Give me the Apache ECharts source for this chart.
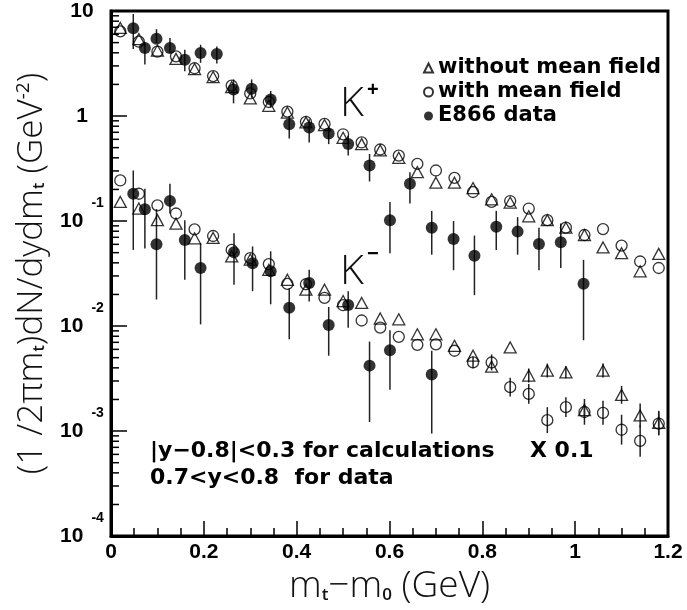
<!DOCTYPE html>
<html>
<head>
<meta charset="utf-8">
<script src="https://cdn.jsdelivr.net/npm/echarts@6/dist/echarts.min.js"></script>
<style>
  html, body { margin: 0; padding: 0; background: #fff; }
  #chart { width: 687px; height: 610px; }
</style>
</head>
<body>
<div id="chart"></div>
<script>
// transverse-mass points of the transport calculations (GeV)
const xCalc = [0.02, 0.06, 0.10, 0.14, 0.18, 0.22, 0.26, 0.30, 0.34, 0.38,
               0.42, 0.46, 0.50, 0.54, 0.58, 0.62, 0.66, 0.70, 0.74, 0.78,
               0.82, 0.86, 0.90, 0.94, 0.98, 1.02, 1.06, 1.10, 1.14, 1.18];

// K+ spectra
const kPlusNoMF = [6.9, 5.4, 4.2, 3.5, 2.8, 2.35, 1.88, 1.47, 1.25, 1.08,
                   0.87, 0.82, 0.62, 0.54, 0.47, 0.40, 0.292, 0.232, 0.232, 0.206,
                   0.161, 0.150, 0.111, 0.102, 0.0865, 0.0736, 0.056, 0.0494, 0.0332, 0.0487];
const kPlusMF   = [6.4, 5.1, 4.1, 3.7, 2.85, 2.4, 1.95, 1.64, 1.36, 1.10,
                   0.88, 0.84, 0.67, 0.56, 0.48, 0.42, 0.350, 0.303, 0.258, 0.189,
                   0.152, 0.155, 0.1315, 0.102, 0.0865, 0.0736, 0.0838, 0.0584, 0.0412, 0.0357];

// K- spectra (scaled by 0.1)
const kMinusNoMF = [0.152, 0.1315, 0.102, 0.0945, 0.0685, 0.069, 0.046, 0.043, 0.0343, 0.0276,
                    0.0222, 0.0222, 0.0173, 0.0166, 0.0118, 0.0116, 0.00835, 0.00835, 0.00649, 0.00522,
                    0.0041, 0.00625, 0.00338, 0.00377, 0.00363, 0.00158, 0.00377, 0.00221, 0.00141, 0.00120];
const kMinusMF   = [0.2435, 0.182, 0.141, 0.118, 0.0834, 0.072, 0.0531, 0.0443, 0.0389, 0.0252,
                    0.025, 0.01855, 0.0158, 0.0113, 0.00966, 0.00789, 0.00663, 0.0067, 0.00582, 0.00451,
                    0.0045, 0.00262, 0.00226, 0.00127, 0.00169, 0.00152, 0.00149, 0.00103, 0.000807, 0.00118];

// statistical spread of the K- calculations (null = not drawn)
const kMinusNoMFLo = [null, null, null, null, null, null, null, null, null, null,
                      null, null, null, null, null, null, null, null, null, null,
                      null, null, 0.0029, 0.00324, 0.00318, 0.00136, 0.00324, 0.00182, 0.00108, 0.00092];
const kMinusNoMFHi = [null, null, null, null, null, null, null, null, null, null,
                      null, null, null, null, null, null, null, null, null, null,
                      null, null, 0.00394, 0.00439, 0.00414, 0.00184, 0.00439, 0.00269, 0.00183, 0.00156];
const kMinusMFLo = [null, null, null, null, null, null, null, null, null, null,
                    null, null, null, null, null, null, null, null, null, 0.00396,
                    0.00378, 0.00213, 0.00182, 0.000957, 0.00136, 0.00115, 0.00115, 0.000743, 0.00057, 0.000908];
const kMinusMFHi = [null, null, null, null, null, null, null, null, null, null,
                    null, null, null, null, null, null, null, null, null, 0.00514,
                    0.00536, 0.00322, 0.00281, 0.00169, 0.0021, 0.00202, 0.00194, 0.00143, 0.00114, 0.00153];

// E866 K+ data
const kPlusDataX  = [0.048, 0.073, 0.098, 0.127, 0.159, 0.193, 0.228, 0.264, 0.303, 0.344,
                     0.384, 0.427, 0.469, 0.511, 0.557, 0.601, 0.644, 0.691, 0.738, 0.783,
                     0.830, 0.876, 0.922, 0.969, 1.018];
const kPlusData   = [6.86, 4.44, 5.44, 4.44, 3.44, 3.98, 3.90, 1.79, 1.82, 1.44,
                     0.836, 0.779, 0.683, 0.541, 0.338, 0.102, 0.227, 0.0865, 0.0675, 0.0466,
                     0.0883, 0.0793, 0.0605, 0.0628, 0.0253];
const kPlusDataLo = [4.34, 3.09, 4.95, 3.98, 2.67, 3.21, 3.16, 1.32, 1.49, 1.21,
                     0.61, 0.56, 0.54, 0.42, 0.238, 0.0494, 0.147, 0.0478, 0.034, 0.0197,
                     0.053, 0.0478, 0.034, 0.0357, 0.00733];
const kPlusDataHi = [9.37, 5.0, 6.71, 5.52, 4.28, 4.77, 4.60, 2.23, 2.23, 1.73,
                     1.0, 0.93, 0.78, 0.65, 0.435, 0.152, 0.292, 0.125, 0.10, 0.0727,
                     0.125, 0.109, 0.0865, 0.0945, 0.0427];

// E866 K- data (scaled by 0.1)
const kMinusDataX  = [0.048, 0.073, 0.098, 0.127, 0.159, 0.193, 0.265, 0.305, 0.344, 0.384,
                      0.427, 0.469, 0.511, 0.557, 0.601, 0.691];
const kMinusData   = [0.182, 0.1296, 0.0602, 0.1556, 0.066, 0.0357, 0.0505, 0.0397, 0.0332, 0.01493,
                      0.0257, 0.01024, 0.01583, 0.0042, 0.00589, 0.00345];
const kMinusDataLo = [0.0531, 0.0547, 0.0179, 0.118, 0.0276, 0.01038, 0.0248, 0.0215, 0.0161, 0.00748,
                      0.0171, 0.00522, 0.00966, 0.00122, 0.00247, 0.000947];
const kMinusDataHi = [0.303, 0.203, 0.13, 0.226, 0.102, 0.0614, 0.0765, 0.0573, 0.0515, 0.0229,
                      0.0343, 0.0152, 0.0215, 0.00712, 0.0091, 0.00582];

// axis tick labels
const xTickLabels = ['0', '0.2', '0.4', '0.6', '0.8', '1', '1.2'];

const LABEL_FONT = '"Liberation Sans", Arial, sans-serif';
const TEXT_FONT = '"DejaVu Sans", sans-serif';
const TITLE_FONT = '"Open Sans", "DejaVu Sans", sans-serif';

const pairs = (xs, ys) => xs.map((x, i) => [x, ys[i]]);
const bars = (xs, lo, hi) => xs.map((x, i) => [x, lo[i], hi[i]]).filter(d => d[1] != null && d[2] != null);

// minor ticks of the logarithmic axis: 2..9 within each decade
const yMinorTicks = [];
for (let e = -4; e < 1; e++) {
  for (let m = 2; m <= 9; m++) yMinorTicks.push([0, m * Math.pow(10, e)]);
}

function errorBar(params, api) {
  const x = api.value(0);
  const top = api.coord([x, api.value(2)]);
  const bot = api.coord([x, api.value(1)]);
  return {
    type: 'line',
    shape: { x1: top[0], y1: top[1], x2: bot[0], y2: bot[1] },
    style: { stroke: '#222', lineWidth: 1.5 }
  };
}

function minorTick(params, api) {
  const p = api.coord([0, api.value(1)]);
  return {
    type: 'line',
    shape: { x1: p[0], y1: p[1], x2: p[0] + 8, y2: p[1] },
    style: { stroke: '#000', lineWidth: 1.5 }
  };
}

const openStyle = { color: 'rgba(0,0,0,0)', borderColor: '#000', borderWidth: 1.3 };
const fullStyle = { color: '#000', borderColor: '#000', borderWidth: 0 };

const chart = echarts.init(document.getElementById('chart'), null, { renderer: 'canvas' });

chart.setOption({
  animation: false,
  backgroundColor: '#fff',
  grid: { left: 111, right: 19, top: 11, bottom: 70, show: true, borderColor: '#000', borderWidth: 3 },
  legend: {
    data: ['without mean field', 'with mean field', 'E866 data'],
    orient: 'vertical',
    left: 418,
    top: 52,
    itemWidth: 9,
    itemHeight: 9,
    itemGap: 2,
    selectedMode: false,
    textStyle: { fontFamily: TEXT_FONT, fontSize: 21, fontWeight: 'bold', color: '#000', lineHeight: 22 }
  },
  xAxis: {
    type: 'value',
    min: 0,
    max: 1.2,
    interval: 0.2,
    axisLine: { lineStyle: { color: '#000', width: 3 } },
    axisTick: { inside: true, length: 15, lineStyle: { color: '#000', width: 1.5 } },
    minorTick: { show: true, splitNumber: 4, length: 8, lineStyle: { color: '#000', width: 1.5 } },
    splitLine: { show: false },
    axisLabel: {
      margin: 6,
      fontFamily: LABEL_FONT,
      fontWeight: 'bold',
      fontSize: 21,
      color: '#000',
      formatter: v => xTickLabels[Math.round(v / 0.2)]
    },
    name: '{m|m}{sub|t}{m|−m}{sub|0}{m| (GeV)}',
    nameLocation: 'middle',
    nameGap: 30,
    nameTextStyle: {
      rich: {
        m: { fontFamily: TITLE_FONT, fontSize: 37, fontWeight: 300, color: '#111' },
        sub: { fontFamily: TITLE_FONT, fontSize: 17, fontWeight: 600, color: '#111', padding: [18, 0, 0, 0] }
      }
    }
  },
  yAxis: {
    type: 'log',
    logBase: 10,
    min: 0.0001,
    max: 10,
    axisLine: { show: true, lineStyle: { color: '#000', width: 3 } },
    axisTick: { inside: true, length: 16, lineStyle: { color: '#000', width: 1.5 } },
    splitLine: { show: false },
    axisLabel: {
      align: 'center',
      margin: 29,
      fontFamily: LABEL_FONT,
      fontWeight: 'bold',
      fontSize: 21,
      color: '#000',
      formatter: v => {
        const e = Math.round(Math.log10(v));
        if (e === 1) return '{b|10}';
        if (e === 0) return '{b|1}';
        return '{b|10}{s|' + e + '}';
      },
      rich: {
        b: { fontFamily: LABEL_FONT, fontWeight: 'bold', fontSize: 21, color: '#000' },
        s: { fontFamily: LABEL_FONT, fontWeight: 'bold', fontSize: 14, color: '#000', padding: [0, 0, 36, 8] }
      }
    },
    name: '{t|(1 /2πm}{sub|t}{t|)dN/dydm}{sub|t}{t| (GeV}{sup|-2}{t|)}',
    nameLocation: 'middle',
    nameRotate: 90,
    nameGap: 60,
    nameTextStyle: {
      rich: {
        t: { fontFamily: TITLE_FONT, fontSize: 35, fontWeight: 300, color: '#111' },
        sub: { fontFamily: TITLE_FONT, fontSize: 16, fontWeight: 600, color: '#111', padding: [16, 0, 0, 0] },
        sup: { fontFamily: TITLE_FONT, fontSize: 19, fontWeight: 400, color: '#111', padding: [0, 0, 16, 0] }
      }
    }
  },
  graphic: [
    { type: 'text', left: 340, top: 84, style: { text: 'K', font: '300 41px ' + TITLE_FONT, fill: '#111' } },
    { type: 'text', left: 367, top: 80, style: { text: '+', font: 'bold 20px ' + LABEL_FONT, fill: '#000' } },
    { type: 'text', left: 340, top: 252, style: { text: 'K', font: '300 41px ' + TITLE_FONT, fill: '#111' } },
    { type: 'text', left: 367, top: 244, style: { text: '−', font: 'bold 20px ' + LABEL_FONT, fill: '#000' } },
    { type: 'text', left: 150, top: 440, style: { text: '|y−0.8|<0.3 for calculations', font: 'bold 22px ' + TEXT_FONT, fill: '#000' } },
    { type: 'text', left: 530, top: 440, style: { text: 'X 0.1', font: 'bold 22px ' + TEXT_FONT, fill: '#000' } },
    { type: 'text', left: 150, top: 467, style: { text: '0.7<y<0.8  for data', font: 'bold 22px ' + TEXT_FONT, fill: '#000' } }
  ],
  series: [
    {
      name: 'y minor ticks', type: 'custom', renderItem: minorTick, data: yMinorTicks,
      encode: { x: 0, y: 1 }, clip: false, silent: true, z: 5
    },
    {
      name: 'calc errors', type: 'custom', renderItem: errorBar, silent: true,
      data: bars(xCalc, kMinusNoMFLo, kMinusNoMFHi).concat(bars(xCalc, kMinusMFLo, kMinusMFHi)),
      encode: { x: 0, y: [1, 2] }
    },
    { name: 'without mean field', type: 'scatter', symbol: 'triangle', symbolSize: [12, 11],
      itemStyle: openStyle, data: pairs(xCalc, kPlusNoMF), silent: true },
    { name: 'with mean field', type: 'scatter', symbol: 'circle', symbolSize: 11,
      itemStyle: openStyle, data: pairs(xCalc, kPlusMF), silent: true },
    { name: 'without mean field', type: 'scatter', symbol: 'triangle', symbolSize: [12, 11],
      itemStyle: openStyle, data: pairs(xCalc, kMinusNoMF), silent: true },
    { name: 'with mean field', type: 'scatter', symbol: 'circle', symbolSize: 11,
      itemStyle: openStyle, data: pairs(xCalc, kMinusMF), silent: true },
    {
      name: 'data errors', type: 'custom', renderItem: errorBar, silent: true,
      data: bars(kPlusDataX, kPlusDataLo, kPlusDataHi).concat(bars(kMinusDataX, kMinusDataLo, kMinusDataHi)),
      encode: { x: 0, y: [1, 2] }
    },
    { name: 'E866 data', type: 'scatter', symbol: 'circle', symbolSize: 12,
      itemStyle: fullStyle, data: pairs(kPlusDataX, kPlusData), silent: true },
    { name: 'E866 data', type: 'scatter', symbol: 'circle', symbolSize: 12,
      itemStyle: fullStyle, data: pairs(kMinusDataX, kMinusData), silent: true }
  ]
});
</script>
</body>
</html>
